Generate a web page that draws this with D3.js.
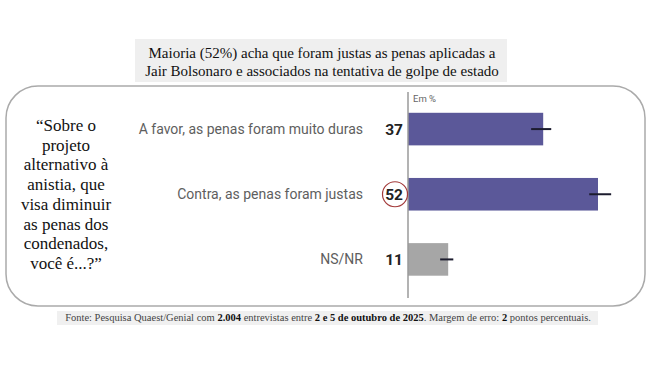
<!DOCTYPE html>
<html><head><meta charset="utf-8">
<script src="https://cdn.jsdelivr.net/npm/d3@7"></script>
<style>body{margin:0;background:#fff}svg{display:block}</style>
</head><body>
<svg id="c" width="650" height="365"></svg>
<script>
const titleLines = ["Maioria (52%) acha que foram justas as penas aplicadas a", "Jair Bolsonaro e associados na tentativa de golpe de estado"];
const questionLines = ["“Sobre o", "projeto", "alternativo à", "anistia, que", "visa diminuir", "as penas dos", "condenados,", "você é...?”"];
const categories = ["A favor, as penas foram muito duras", "Contra, as penas foram justas", "NS/NR"];
const values = [37, 52, 11];
const errLow = [33.7, 49.6, 8.8];
const errHigh = [39.2, 55.6, 12.4];
const highlighted = [false, true, false];
const barColors = ["#5b5899", "#5b5899", "#a6a6a6"];
const unitLabel = "Em %";
const footerParts = [
  ["Fonte: Pesquisa Quaest/Genial com ", false], ["2.004", true], [" entrevistas entre ", false],
  ["2 e 5 de outubro de 2025", true], [". Margem de erro: ", false], ["2", true], [" pontos percentuais.", false]
];

const svg = d3.select("#c");
const serif = "'Liberation Serif', 'Times New Roman', serif";
const sans = "Roboto, 'Noto Sans', sans-serif";

// title box
svg.append("rect").attr("x", 135).attr("y", 39).attr("width", 372).attr("height", 43).attr("fill", "#efefef");
svg.append("g").selectAll("text").data(titleLines).join("text")
  .attr("x", 322).attr("y", (d, i) => 58 + i * 18)
  .attr("text-anchor", "middle").attr("font-family", serif).attr("font-size", 15).attr("fill", "#111")
  .text(d => d);

// frame
svg.append("rect").attr("x", 6).attr("y", 86).attr("width", 639).attr("height", 220)
  .attr("rx", 32).attr("fill", "none").attr("stroke", "#aaa").attr("stroke-width", 1.5);

// footer
svg.append("rect").attr("x", 57).attr("y", 311).attr("width", 541).attr("height", 14).attr("fill", "#f0f0f0");
const ft = svg.append("text").attr("x", 328).attr("y", 321).attr("text-anchor", "middle")
  .attr("font-family", serif).attr("font-size", 10.5).attr("fill", "#333");
ft.selectAll("tspan").data(footerParts).join("tspan")
  .attr("font-weight", d => d[1] ? "bold" : "normal").attr("fill", d => d[1] ? "#111" : "#444").text(d => d[0]);

// question
svg.append("g").selectAll("text").data(questionLines).join("text")
  .attr("x", 66).attr("y", (d, i) => 131 + i * 19.7)
  .attr("text-anchor", "middle").attr("font-family", serif).attr("font-size", 17).attr("fill", "#111")
  .text(d => d);

// scales
const x = d3.scaleLinear().domain([0, 52]).range([408, 598]);
const y = d3.scaleBand().domain(categories).range([96.5, 292]).paddingInner(0.5).paddingOuter(0.25);

// bars
svg.append("g").selectAll("rect").data(values).join("rect")
  .attr("x", x(0)).attr("y", (d, i) => y(categories[i]))
  .attr("width", d => x(d) - x(0)).attr("height", y.bandwidth())
  .attr("fill", (d, i) => barColors[i]);

// axis line
svg.append("line").attr("x1", x(0)).attr("x2", x(0)).attr("y1", 92).attr("y2", 298)
  .attr("stroke", "#9a9a9a").attr("stroke-width", 1.5);
svg.append("text").attr("x", x(0) + 5).attr("y", 102).attr("font-family", sans).attr("font-size", 9.5)
  .attr("fill", "#666").text(unitLabel);

// error bars
svg.append("g").selectAll("line").data(values).join("line")
  .attr("x1", (d, i) => x(errLow[i])).attr("x2", (d, i) => x(errHigh[i]))
  .attr("y1", (d, i) => y(categories[i]) + y.bandwidth() / 2)
  .attr("y2", (d, i) => y(categories[i]) + y.bandwidth() / 2)
  .attr("stroke", "#1c1c2e").attr("stroke-width", 2);

// category labels
svg.append("g").selectAll("text").data(categories).join("text")
  .attr("x", 363).attr("y", d => y(d) + y.bandwidth() / 2 + 4.5)
  .attr("text-anchor", "end").attr("font-family", sans).attr("font-size", 14).attr("fill", "#5e5e5e")
  .text(d => d);

// highlight circle
svg.append("g").selectAll("circle").data(values.map((d, i) => i).filter(i => highlighted[i])).join("circle")
  .attr("cx", 395).attr("cy", i => y(categories[i]) + y.bandwidth() / 2)
  .attr("r", 12.5).attr("fill", "none").attr("stroke", "#a33a3a").attr("stroke-width", 1.2);

// value labels
svg.append("g").selectAll("text").data(values).join("text")
  .attr("x", 403).attr("y", (d, i) => y(categories[i]) + y.bandwidth() / 2 + 5.5)
  .attr("text-anchor", "end").attr("font-family", sans).attr("font-weight", "bold").attr("font-size", 15.5)
  .attr("fill", "#222").text(d => d);
</script>
</body></html>
